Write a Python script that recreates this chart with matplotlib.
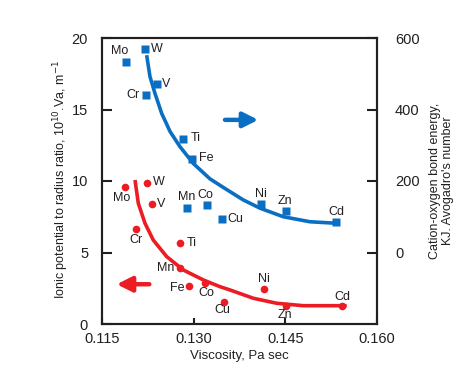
import matplotlib
matplotlib.use("Agg")
import matplotlib.pyplot as plt

plt.rcParams['font.family'] = ['Liberation Sans', 'DejaVu Sans']

# ---------------- data ----------------
elements = ["Mo", "W", "V", "Cr", "Ti", "Fe", "Mn", "Co", "Cu", "Ni", "Zn", "Cd"]

# Blue squares: cation-oxygen bond energy (right axis)
bond_visc = [0.1190, 0.1220, 0.1240, 0.1222, 0.1283, 0.1298, 0.1289, 0.1321, 0.1346, 0.1410, 0.1451, 0.1533]
bond_energy = [532, 569, 470, 441, 317, 261, 125, 134, 95, 137, 117, 84]

# Red circles: ionic potential to radius ratio (left axis)
ionic_visc = [0.1188, 0.1223, 0.1232, 0.1206, 0.1277, 0.1293, 0.1277, 0.1318, 0.1350, 0.1415, 0.1451, 0.1543]
ionic_ratio = [9.60, 9.84, 8.37, 6.67, 5.66, 2.63, 3.89, 2.84, 1.56, 2.45, 1.28, 1.28]

# Trend curves
blue_curve_x = [0.12231, 0.12285, 0.12367, 0.12477, 0.12615, 0.12776, 0.12994, 0.13267,
                0.13485, 0.13812, 0.14085, 0.14467, 0.14903, 0.15313]
blue_curve_y = [552, 492, 445, 389, 338, 296, 249, 206, 182, 147, 124, 100, 86, 82]
red_curve_x = [0.12040, 0.12094, 0.12204, 0.12339, 0.12559, 0.12830, 0.13158, 0.13431,
               0.13595, 0.13976, 0.14359, 0.14794, 0.15504]
red_curve_y = [10.07, 8.44, 7.04, 5.87, 4.71, 3.78, 3.08, 2.61, 2.38, 1.80, 1.45, 1.28, 1.28]

x_ticks = [0.115, 0.130, 0.145, 0.160]
x_tick_labels = ["0.115", "0.130", "0.145", "0.160"]
left_ticks = [0, 5, 10, 15, 20]
right_ticks = [0, 200, 400, 600]

# ---------------- layout / style ----------------
BLUE = "#0a6fc2"
RED = "#ec1c24"
TXT = "#231f20"

blue_off = {"Mo": (-7, 11), "W": (12, 0), "V": (9, 0), "Cr": (-13, 0), "Ti": (12, 1),
            "Fe": (14, 1), "Mn": (0, 11), "Co": (-1, 10), "Cu": (14, 0), "Ni": (0, 10),
            "Zn": (-1, 10), "Cd": (0, 10)}
red_off = {"Mo": (-4, -11), "W": (12, 1), "V": (9, 0), "Cr": (0, -11), "Ti": (12, 0),
           "Fe": (-12, -2), "Mn": (-14, 0), "Co": (2, -10), "Cu": (-2, -8), "Ni": (0, 10),
           "Zn": (-1, -9), "Cd": (0, 9)}

fig = plt.figure(figsize=(4.67, 3.71), dpi=100)
ax = fig.add_axes([102 / 467, 47 / 371, 275 / 467, 286 / 371])
ax2 = ax.twinx()

ax.set_xlim(0.115, 0.160)
ax.set_ylim(0, 20)
ax2.set_ylim(-200, 600)

for a in (ax, ax2):
    for s in a.spines.values():
        s.set_linewidth(1.5)
        s.set_color(TXT)

ax.set_xticks(x_ticks)
ax.set_xticklabels(x_tick_labels)
ax.set_yticks(left_ticks)
ax2.set_yticks(right_ticks)

ax.tick_params(axis='x', direction='in', length=4, width=1.5, pad=6, labelsize=10.5, colors=TXT)
ax.tick_params(axis='y', direction='in', length=7, width=1.5, pad=10, labelsize=10.5, colors=TXT)
ax2.tick_params(axis='y', direction='in', length=7, width=1.5, pad=13, labelsize=10.5, colors=TXT)

# curves
ax.plot(red_curve_x, red_curve_y, color=RED, lw=2.6, solid_capstyle='butt', zorder=2)
ax2.plot(blue_curve_x, blue_curve_y, color=BLUE, lw=2.6, solid_capstyle='butt', zorder=2)

# markers
ax.plot(ionic_visc, ionic_ratio, 'o', color=RED, ms=5.5, mec='none', zorder=3)
ax2.plot(bond_visc, bond_energy, 's', color=BLUE, ms=6, mec='none', zorder=3)

for el, xv, yv in zip(elements, ionic_visc, ionic_ratio):
    dx, dy = red_off[el]
    ax.annotate(el, (xv, yv), xytext=(dx, dy), textcoords='offset pixels',
                ha='center', va='center', fontsize=9, color=TXT)
for el, xv, yv in zip(elements, bond_visc, bond_energy):
    dx, dy = blue_off[el]
    ax2.annotate(el, (xv, yv), xytext=(dx, dy), textcoords='offset pixels',
                 ha='center', va='center', fontsize=9, color=TXT)

# arrows
ax2.annotate("", xy=(0.14058, 371), xytext=(0.13513, 371),
             arrowprops=dict(arrowstyle='-|>,head_length=0.9,head_width=0.45',
                             color=BLUE, lw=3.2, shrinkA=0, shrinkB=0))
ax.annotate("", xy=(0.11740, 2.78), xytext=(0.12274, 2.78),
            arrowprops=dict(arrowstyle='-|>,head_length=0.9,head_width=0.45',
                            color=RED, lw=3.2, shrinkA=0, shrinkB=0))

ax.set_xlabel("Viscosity, Pa sec", fontsize=9.5, color=TXT, va='center')
ax.xaxis.set_label_coords(0.5, -0.112)
ax.set_ylabel("Ionic potential to radius ratio, 10$^{10}$.Va, m$^{-1}$", fontsize=9,
              color=TXT, va='center')
ax.yaxis.set_label_coords(-0.149, 0.505)
ax2.set_ylabel("Cation-oxygen bond energy,\nKJ. Avogadro's number", fontsize=9,
               color=TXT, rotation=90, va='center', ha='center', linespacing=1.1)
ax2.yaxis.set_label_coords(1.236, 0.5)

fig.savefig("out.png", dpi=100)
